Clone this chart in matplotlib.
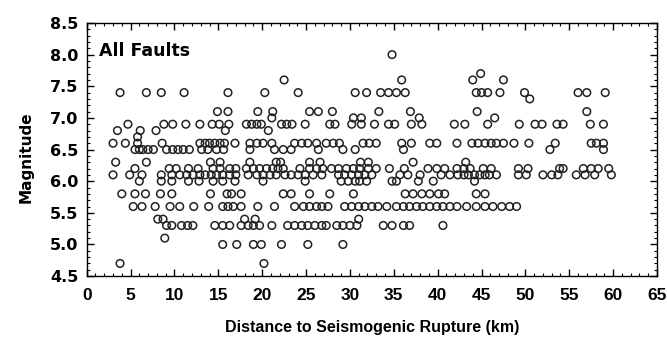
import matplotlib
matplotlib.use('Agg')
import matplotlib.pyplot as plt
from matplotlib.ticker import MultipleLocator

# distances (km) grouped by magnitude level
m80 = [34.8]
m77 = [44.9]
m76 = [22.5, 35.9, 44.0, 47.5]
m74 = [3.8, 6.8, 8.5, 11.1, 16.1, 20.3, 24.1, 30.6, 31.9, 33.5, 34.4, 35.3, 36.3,
       44.4, 45.0, 45.7, 47.1, 49.9, 56.0, 57.0, 59.1]
m73 = [50.5]
m71 = [14.9, 16.1, 19.5, 21.2, 25.4, 26.4, 28.0, 33.3, 36.9, 44.5, 57.0]
m70 = [21.1, 30.4, 31.3, 37.9, 46.5]
m69 = [4.7, 8.8, 9.8, 11.3, 12.9, 14.3, 15.1, 16.2, 18.2, 18.8, 19.4, 19.9, 22.2,
       22.8, 23.4, 24.9, 27.7, 28.3, 30.2, 31.3, 32.8, 34.4, 35.1, 37.0, 38.2, 41.9,
       43.1, 45.7, 49.3, 51.1, 51.9, 53.6, 54.3, 57.4, 58.9]
m68 = [3.5, 6.1, 7.9, 15.8, 20.7]
m67 = [5.8]
m66 = [3.0, 4.4, 5.8, 8.6, 12.9, 13.5, 14.0, 14.6, 15.2, 15.7, 16.9, 18.6, 19.4,
       20.1, 21.1, 23.7, 24.5, 25.2, 26.2, 27.3, 28.1, 28.8, 31.5, 32.2, 33.0, 35.9,
       37.0, 39.1, 39.9, 42.2, 43.9, 44.6, 45.4, 46.1, 46.7, 47.5, 48.7, 50.4, 53.4,
       57.5, 58.1, 58.9]
m65 = [5.5, 6.0, 6.4, 7.0, 7.6, 9.1, 9.8, 10.4, 11.0, 11.7, 13.1, 13.8, 14.8, 15.6,
       18.6, 21.4, 22.4, 23.3, 26.4, 29.2, 30.6, 36.1, 52.8, 58.9]
m63 = [3.3, 6.8, 14.1, 15.2, 18.6, 21.6, 22.1, 25.4, 26.6, 31.2, 32.1, 37.2, 43.2]
m62 = [5.5, 9.4, 10.2, 11.6, 12.7, 14.4, 15.2, 16.3, 17.0, 18.2, 19.0, 19.7, 20.5,
       21.2, 21.8, 22.4, 24.3, 25.4, 26.2, 26.9, 27.9, 28.7, 29.6, 30.4, 31.1, 32.1,
       33.0, 34.5, 36.2, 38.9, 39.9, 40.8, 42.2, 43.0, 43.7, 45.2, 46.1, 49.2, 50.3,
       53.9, 54.3, 56.6, 57.5, 58.3, 59.5]
m61 = [3.0, 4.9, 6.3, 8.5, 9.7, 10.6, 11.4, 12.1, 12.9, 13.5, 14.2, 14.8, 15.5, 16.3,
       17.0, 18.4, 19.4, 20.1, 20.9, 21.6, 22.6, 23.3, 24.1, 24.9, 25.8, 26.8, 28.7,
       29.4, 30.2, 31.0, 31.7, 32.5, 35.7, 36.6, 38.0, 40.4, 41.4, 42.3, 43.0, 43.5,
       44.2, 44.8, 45.4, 45.9, 46.7, 49.2, 50.1, 52.0, 53.0, 53.7, 55.8, 56.8, 57.9,
       59.8]
m60 = [6.0, 8.5, 9.7, 11.6, 12.8, 14.4, 15.5, 16.9, 20.1, 24.9, 29.0, 29.8, 30.6,
       31.1, 31.9, 34.8, 35.3, 37.8, 39.5, 44.2]
m58 = [4.0, 5.5, 6.7, 8.4, 9.7, 14.1, 16.0, 16.5, 17.6, 22.4, 23.3, 25.4, 27.7, 30.4,
       36.3, 37.2, 38.2, 39.1, 40.1, 40.8, 44.4, 45.4]
m56 = [5.3, 6.3, 7.8, 9.5, 10.6, 12.2, 13.9, 15.5, 16.1, 16.7, 17.6, 19.5, 21.4, 23.7,
       24.7, 25.4, 26.2, 26.8, 27.5, 29.4, 30.2, 31.0, 31.7, 32.5, 33.2, 34.2, 35.3,
       36.1, 36.8, 37.6, 38.3, 39.1, 39.9, 40.6, 41.4, 42.2, 43.3, 44.4, 45.4, 46.3,
       47.3, 48.2, 49.0]
m54 = [8.1, 8.7, 18.0, 19.2, 31.0]
m53 = [9.1, 9.7, 10.8, 11.5, 12.1, 14.6, 15.5, 16.3, 17.6, 18.4, 19.0, 19.7, 21.1,
       22.9, 23.7, 24.5, 25.2, 26.0, 26.8, 27.3, 28.5, 29.2, 30.0, 30.8, 33.8, 34.8,
       36.1, 36.8, 40.6]
m51 = [8.9]
m50 = [15.5, 17.1, 19.0, 19.9, 22.2, 25.2, 29.2]
m47 = [3.8, 20.2]

levels = {8.0: m80, 7.7: m77, 7.6: m76, 7.4: m74, 7.3: m73, 7.1: m71, 7.0: m70,
          6.9: m69, 6.8: m68, 6.7: m67, 6.6: m66, 6.5: m65, 6.3: m63, 6.2: m62,
          6.1: m61, 6.0: m60, 5.8: m58, 5.6: m56, 5.4: m54, 5.3: m53, 5.1: m51,
          5.0: m50, 4.7: m47}

dist = []
mag = []
for m, ds in levels.items():
    dist += ds
    mag += [m] * len(ds)

plt.rcParams['font.family'] = ['DejaVu Sans']
plt.rcParams['font.weight'] = 'bold'

fig = plt.figure(figsize=(6.67, 3.43), dpi=100)
ax = fig.add_axes([0.130, 0.195, 0.855, 0.738])

ax.scatter(dist, mag, s=30, facecolors='none', edgecolors='#222222', linewidths=1.1)

ax.set_xlim(0, 65)
ax.set_ylim(4.5, 8.5)
ax.xaxis.set_major_locator(MultipleLocator(5))
ax.xaxis.set_minor_locator(MultipleLocator(1))
ax.yaxis.set_major_locator(MultipleLocator(0.5))
ax.yaxis.set_minor_locator(MultipleLocator(0.1))
ax.yaxis.set_major_formatter(matplotlib.ticker.FormatStrFormatter('%.1f'))
ax.tick_params(which='both', direction='in', top=True, right=True)
ax.tick_params(which='major', length=5, width=1)
ax.tick_params(which='minor', length=2.5, width=0.8)
ax.tick_params(axis='x', pad=8.5, labelsize=12.5, labelfontfamily='Liberation Sans')
ax.tick_params(axis='y', pad=6, labelsize=11.5)
for s in ax.spines.values():
    s.set_linewidth(1)

ax.set_xlabel('Distance to Seismogenic Rupture (km)', fontsize=11.5, fontweight='bold',
              family='Liberation Sans', labelpad=12)
ax.set_ylabel('Magnitude', fontsize=11, fontweight='bold', labelpad=12)
ax.yaxis.label.set_y(0.47)
ax.text(0.022, 0.925, 'All Faults', transform=ax.transAxes, fontsize=12.5,
        fontweight='bold', va='top', ha='left')

fig.savefig('out.png', dpi=100)
